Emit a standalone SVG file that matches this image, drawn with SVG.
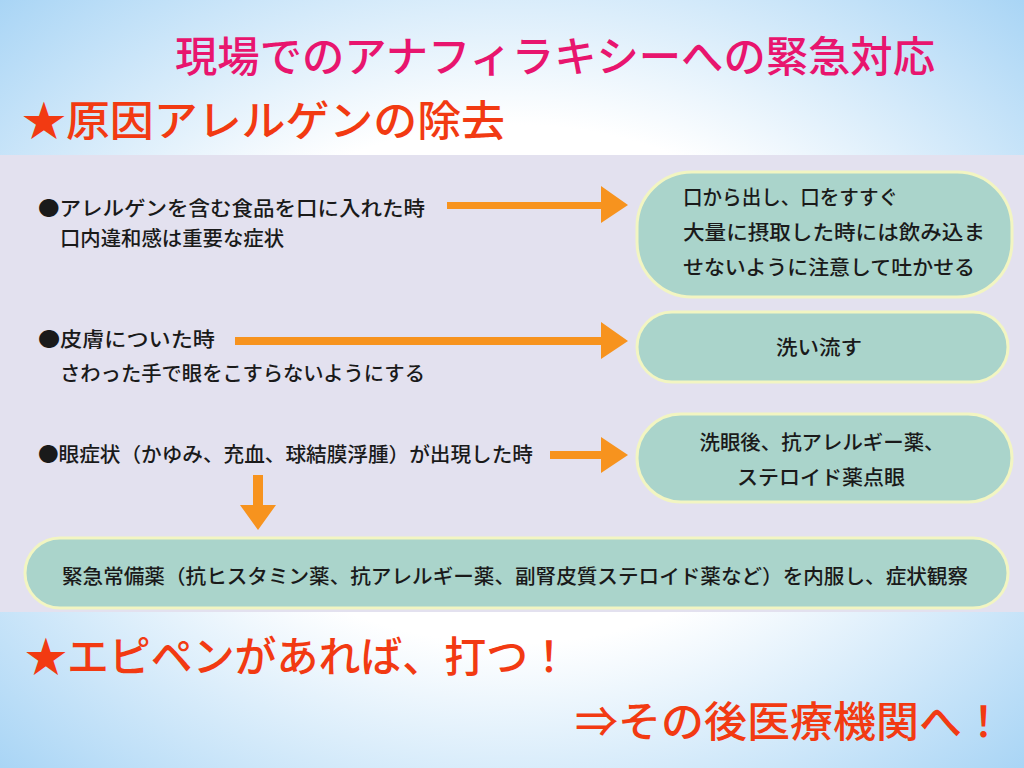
<svg xmlns="http://www.w3.org/2000/svg" width="1024" height="768" viewBox="0 0 1024 768">
<defs>
<radialGradient id="bg" cx="0.5" cy="0.5" r="0.75">
<stop offset="0" stop-color="#ffffff"/>
<stop offset="0.45" stop-color="#ffffff"/>
<stop offset="1" stop-color="#9fd0f4"/>
</radialGradient>
<style>
.t{font-family:"Noto Sans CJK JP","Liberation Sans",sans-serif;}
.big{font-size:42px;font-weight:500;}
.pink{fill:#e8156e;}
.red{fill:#f23a12;}
.body{font-size:20px;fill:#1a1a1a;font-weight:500;}
.pill{fill:#aad4cb;stroke:#f2f5c2;stroke-width:3;}
.arr{fill:#f7931e;}
</style>
</defs>
<rect width="1024" height="768" fill="url(#bg)"/>
<rect x="0" y="155" width="1024" height="457" fill="#e3e1ef"/>

<text class="t big pink" x="175" y="72" textLength="760" lengthAdjust="spacingAndGlyphs">現場でのアナフィラキシーへの緊急対応</text>
<text class="t big red" x="22" y="136" textLength="483" lengthAdjust="spacingAndGlyphs">★原因アレルゲンの除去</text>

<g id="src1">
<text class="t body" x="38" y="216" textLength="387" lengthAdjust="spacingAndGlyphs">●アレルゲンを含む食品を口に入れた時</text>
<text class="t body" x="60" y="246" textLength="224" lengthAdjust="spacingAndGlyphs">口内違和感は重要な症状</text>
</g>
<g id="src2">
<text class="t body" x="38" y="347" textLength="177" lengthAdjust="spacingAndGlyphs">●皮膚についた時</text>
<text class="t body" x="60" y="381" textLength="365" lengthAdjust="spacingAndGlyphs">さわった手で眼をこすらないようにする</text>
</g>
<g id="src3">
<text class="t body" x="38" y="462" textLength="495" lengthAdjust="spacingAndGlyphs">●眼症状（かゆみ、充血、球結膜浮腫）が出現した時</text>
</g>

<g id="n1">
<rect class="pill" x="637" y="172" width="375" height="125" rx="55" ry="55"/>
<text class="t body" x="683" y="205" textLength="215" lengthAdjust="spacingAndGlyphs">口から出し、口をすすぐ</text>
<text class="t body" x="683" y="240" textLength="302" lengthAdjust="spacingAndGlyphs">大量に摂取した時には飲み込ま</text>
<text class="t body" x="683" y="275" textLength="292" lengthAdjust="spacingAndGlyphs">せないように注意して吐かせる</text>
</g>
<g id="n2">
<rect class="pill" x="637" y="312" width="371" height="70" rx="35" ry="35"/>
<text class="t body" x="819" y="355" text-anchor="middle" textLength="86" lengthAdjust="spacingAndGlyphs">洗い流す</text>
</g>
<g id="n3">
<rect class="pill" x="637" y="414" width="375" height="88" rx="44" ry="44"/>
<text class="t body" x="822" y="450" text-anchor="middle" textLength="245" lengthAdjust="spacingAndGlyphs">洗眼後、抗アレルギー薬、</text>
<text class="t body" x="821" y="485" text-anchor="middle" textLength="168" lengthAdjust="spacingAndGlyphs">ステロイド薬点眼</text>
</g>
<g id="n4">
<rect class="pill" x="25" y="538" width="983" height="70" rx="35" ry="35"/>
<text class="t body" x="62" y="584" textLength="906" lengthAdjust="spacingAndGlyphs">緊急常備薬（抗ヒスタミン薬、抗アレルギー薬、副腎皮質ステロイド薬など）を内服し、症状観察</text>
</g>

<g id="connectors">
<polygon class="arr" points="447,202 601,202 601,186 628,205 601,223 601,209 447,209"/>
<polygon class="arr" points="235,337 601,337 601,322 628,341 601,359 601,345 235,345"/>
<polygon class="arr" points="550,451 601,451 601,437 628,455 601,473 601,459 550,459"/>
<polygon class="arr" points="253,475 263,475 263,505 276,505 258,530 240,505 253,505"/>
</g>

<text class="t big red" x="25" y="672" textLength="545" lengthAdjust="spacingAndGlyphs">★エピペンがあれば、打つ！</text>
<text class="t big red" x="575" y="737" textLength="430" lengthAdjust="spacingAndGlyphs">⇒その後医療機関へ！</text>
</svg>
